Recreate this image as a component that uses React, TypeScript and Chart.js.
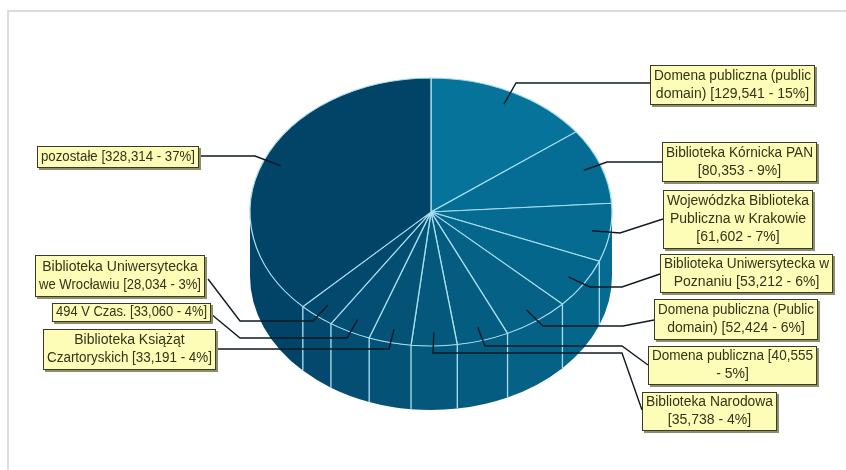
import React, { useEffect, useRef } from "react";
import { Chart, registerables } from "chart.js";

Chart.register(...registerables);

const categories = [
  "Domena publiczna (public domain)",
  "Biblioteka Kórnicka PAN",
  "Wojewódzka Biblioteka Publiczna w Krakowie",
  "Biblioteka Uniwersytecka w Poznaniu",
  "Domena publiczna (Public domain)",
  "Domena publiczna",
  "Biblioteka Narodowa",
  "Biblioteka Książąt Czartoryskich",
  "494 V Czas.",
  "Biblioteka Uniwersytecka we Wrocławiu",
  "pozostałe",
];
const values = [129541, 80353, 61602, 53212, 52424, 40555, 35738, 33191, 33060, 28034, 328314];
const labelLines = [
  ["Domena publiczna (public", "domain) [129,541 - 15%]"],
  ["Biblioteka Kórnicka PAN", "[80,353 - 9%]"],
  ["Wojewódzka Biblioteka", "Publiczna w Krakowie", "[61,602 - 7%]"],
  ["Biblioteka Uniwersytecka w", "Poznaniu [53,212 - 6%]"],
  ["Domena publiczna (Public", "domain) [52,424 - 6%]"],
  ["Domena publiczna [40,555", "- 5%]"],
  ["Biblioteka Narodowa", "[35,738 - 4%]"],
  ["Biblioteka Książąt", "Czartoryskich [33,191 - 4%]"],
  ["494 V Czas. [33,060 - 4%]"],
  ["Biblioteka Uniwersytecka", "we Wrocławiu [28,034 - 3%]"],
  ["pozostałe [328,314 - 37%]"],
];
const sliceColors = [
  "#06739b", "#056d94", "#066b90", "#05668b", "#056186", "#045c81",
  "#04587c", "#045377", "#034e72", "#03496d", "#024368",
];

// Callout layout: box [left, top, right, bottom], then the leader's bends up to the box.
const boxes = [
  [650, 65, 815, 105], [662, 142, 817, 182], [663, 190, 813, 249], [660, 254, 833, 293],
  [654, 299, 818, 340], [648, 346, 817, 385], [642, 392, 777, 431], [43, 329, 216, 370],
  [52, 303, 211, 322], [35, 255, 205, 297], [37, 146, 199, 168],
];
const leaders = [
  [[516, 83], [650, 83]],
  [[607, 162], [662, 162]],
  [[620, 233], [663, 219]],
  [[590, 287], [622, 287], [660, 274]],
  [[543, 326], [623, 326], [654, 320]],
  [[485, 346], [622, 346], [648, 365]],
  [[433, 353], [622, 353], [642, 410]],
  [[389, 349], [216, 349]],
  [[347, 338], [240, 338], [211, 314]],
  [[313, 321], [240, 321], [208, 279]],
  [[255, 156], [199, 156]],
];

const CENTER_Y = 212;
const SQUASH = 134 / 181;
const DEPTH = 64;
const RIM = "#a8dff0";

const pie3d = {
  id: "pie3d",
  beforeDatasetsDraw(chart: any) {
    const ctx = chart.ctx;
    const arcs = chart.getDatasetMeta(0).data;
    const { x: cx, outerRadius: rx } = arcs[0];
    const ry = rx * SQUASH;
    ctx.save();
    arcs.forEach((arc: any, i: number) => {
      const a = Math.max(arc.startAngle, 0);
      const b = Math.min(arc.endAngle, Math.PI);
      if (b <= a) return;
      ctx.beginPath();
      ctx.ellipse(cx, CENTER_Y, rx, ry, 0, a, b);
      ctx.ellipse(cx, CENTER_Y + DEPTH, rx, ry, 0, b, a, true);
      ctx.closePath();
      ctx.fillStyle = sliceColors[i];
      ctx.fill();
    });
    ctx.strokeStyle = RIM;
    ctx.lineWidth = 1.3;
    arcs.forEach((arc: any) => {
      const t = arc.endAngle;
      if (t <= 0 || t >= Math.PI) return;
      const px = cx + rx * Math.cos(t);
      const py = CENTER_Y + ry * Math.sin(t);
      ctx.beginPath();
      ctx.moveTo(px, py);
      ctx.lineTo(px, py + DEPTH);
      ctx.stroke();
    });
    ctx.restore();
    ctx.save();
    ctx.translate(cx, CENTER_Y);
    ctx.scale(1, SQUASH);
    ctx.translate(-cx, -arcs[0].y);
  },
  afterDatasetsDraw(chart: any) {
    const ctx = chart.ctx;
    ctx.restore();
    const arcs = chart.getDatasetMeta(0).data;
    const { x: cx, outerRadius: rx } = arcs[0];
    const ry = rx * SQUASH;
    ctx.save();
    ctx.strokeStyle = "#111a22";
    ctx.lineWidth = 1.4;
    arcs.forEach((arc: any, i: number) => {
      const mid = (arc.startAngle + arc.endAngle) / 2;
      ctx.beginPath();
      ctx.moveTo(cx + 0.9 * rx * Math.cos(mid), CENTER_Y + 0.9 * ry * Math.sin(mid));
      leaders[i].forEach(([x, y]) => ctx.lineTo(x, y));
      ctx.stroke();
    });
    ctx.textAlign = "center";
    ctx.textBaseline = "middle";
    boxes.forEach(([l, t, r, b], i) => {
      ctx.fillStyle = "#8e8e6a";
      ctx.fillRect(l + 2, t + 2, r - l, b - t);
      ctx.fillStyle = "#fdfdb8";
      ctx.fillRect(l, t, r - l, b - t);
      ctx.strokeStyle = "#3a3a2c";
      ctx.lineWidth = 1;
      ctx.strokeRect(l + 0.5, t + 0.5, r - l - 1, b - t - 1);
      ctx.fillStyle = "#33331a";
      ctx.font = '14px "Liberation Sans", sans-serif';
      const lines = labelLines[i];
      const lh = 18;
      const y0 = (t + b) / 2 - ((lines.length - 1) * lh) / 2;
      lines.forEach((s, k) => ctx.fillText(s, (l + r) / 2, y0 + k * lh, r - l - 8));
    });
    ctx.restore();
  },
};

export default function App() {
  const ref = useRef<HTMLCanvasElement>(null);
  useEffect(() => {
    const chart = new Chart(ref.current!, {
      type: "pie",
      data: {
        labels: categories,
        datasets: [
          {
            data: values,
            backgroundColor: sliceColors,
            borderColor: RIM,
            borderWidth: 1.3,
          },
        ],
      },
      options: {
        responsive: false,
        animation: false,
        radius: 181,
        layout: { padding: { left: 16, top: 40, bottom: 40 } },
        plugins: { legend: { display: false }, tooltip: { enabled: false } },
      } as any,
      plugins: [pie3d],
    });
    return () => chart.destroy();
  }, []);
  return (
    <div style={{ position: "fixed", inset: 0, background: "#fff", overflow: "hidden" }}>
      <div style={{ position: "absolute", left: 7, top: 10, right: 0, bottom: 0, borderTop: "2px solid #dcdcdc", borderLeft: "2px solid #dcdcdc" }} />
      <canvas ref={ref} width={846} height={470} style={{ position: "absolute", left: 0, top: 0 }} />
    </div>
  );
}
